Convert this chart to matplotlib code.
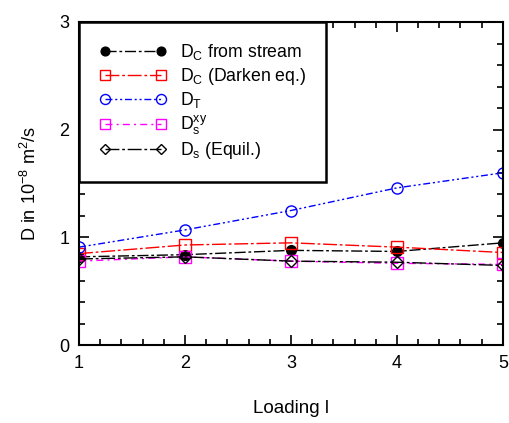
import matplotlib
matplotlib.use("Agg")
import matplotlib.pyplot as plt
from matplotlib.ticker import MultipleLocator

plt.rcParams["font.family"] = ["Liberation Sans", "DejaVu Sans"]
plt.rcParams["mathtext.fontset"] = "custom"
plt.rcParams["mathtext.rm"] = "Liberation Sans"
plt.rcParams["mathtext.it"] = "Liberation Sans"

#+++ Data
loading = [1, 2, 3, 4, 5]
dc_stream = [0.82, 0.84, 0.88, 0.87, 0.95]
dc_darken = [0.85, 0.93, 0.95, 0.91, 0.86]
d_t = [0.91, 1.07, 1.25, 1.46, 1.60]
ds_xy = [0.78, 0.82, 0.78, 0.76, 0.75]
ds_equil = [0.80, 0.82, 0.78, 0.77, 0.74]
#---

fig = plt.figure(figsize=(5.1, 4.23), dpi=100)
ax = fig.add_axes([0.155, 0.184, 0.831, 0.764])

ax.plot(loading, dc_stream, color="k", marker="o", ms=7, mfc="k", lw=1,
        dashes=(8, 2, 2, 2), label=r"D$_\mathregular{C}$ from stream")
ax.plot(loading, dc_darken, color="red", marker="s", ms=8, mfc="none", lw=1,
        dashes=(10, 2, 2, 2), label=r"D$_\mathregular{C}$ (Darken eq.)")
ax.plot(loading, d_t, color="blue", marker="o", ms=8, mfc="none", lw=1,
        dashes=(5, 2, 1.5, 2, 1.5, 2), label=r"D$_\mathregular{T}$")
ax.plot(loading, ds_xy, color="magenta", marker="s", ms=8, mfc="none", lw=1,
        dashes=(5, 3, 1.5, 3), label=r"D$_\mathregular{s}^\mathregular{xy}$")
ax.plot(loading, ds_equil, color="k", marker="D", ms=6, mfc="none", lw=1,
        dashes=(10, 2, 2, 2), label=r"D$_\mathregular{s}$ (Equil.)")

ax.set_xlim(1, 5)
ax.set_ylim(0, 3)
ax.xaxis.set_major_locator(MultipleLocator(1))
ax.xaxis.set_minor_locator(MultipleLocator(0.2))
ax.yaxis.set_major_locator(MultipleLocator(1))
ax.yaxis.set_minor_locator(MultipleLocator(0.2))
ax.tick_params(which="both", direction="in", top=True, right=True, width=1.2, labelsize=13)
ax.tick_params(which="major", length=7, pad=7)
ax.tick_params(which="minor", length=4)
for s in ax.spines.values():
    s.set_linewidth(1.5)

ax.set_xlabel("Loading l", fontsize=13.5, labelpad=20)
ax.set_ylabel(r"D in 10$^\mathregular{-8}$ m$^\mathregular{2}$/s", fontsize=13, labelpad=14)

#+++ Legend
leg = ax.legend(loc="upper left", bbox_to_anchor=(0.0, 1.0), borderaxespad=0,
                fontsize=12.7, numpoints=2, handlelength=3.8, fancybox=False, framealpha=1,
                edgecolor="k", borderpad=1.15, labelspacing=0.2, handletextpad=0.75,
                markerscale=0.9)
leg.get_frame().set_linewidth(1.8)
#---

fig.savefig("out.png", dpi=100)
